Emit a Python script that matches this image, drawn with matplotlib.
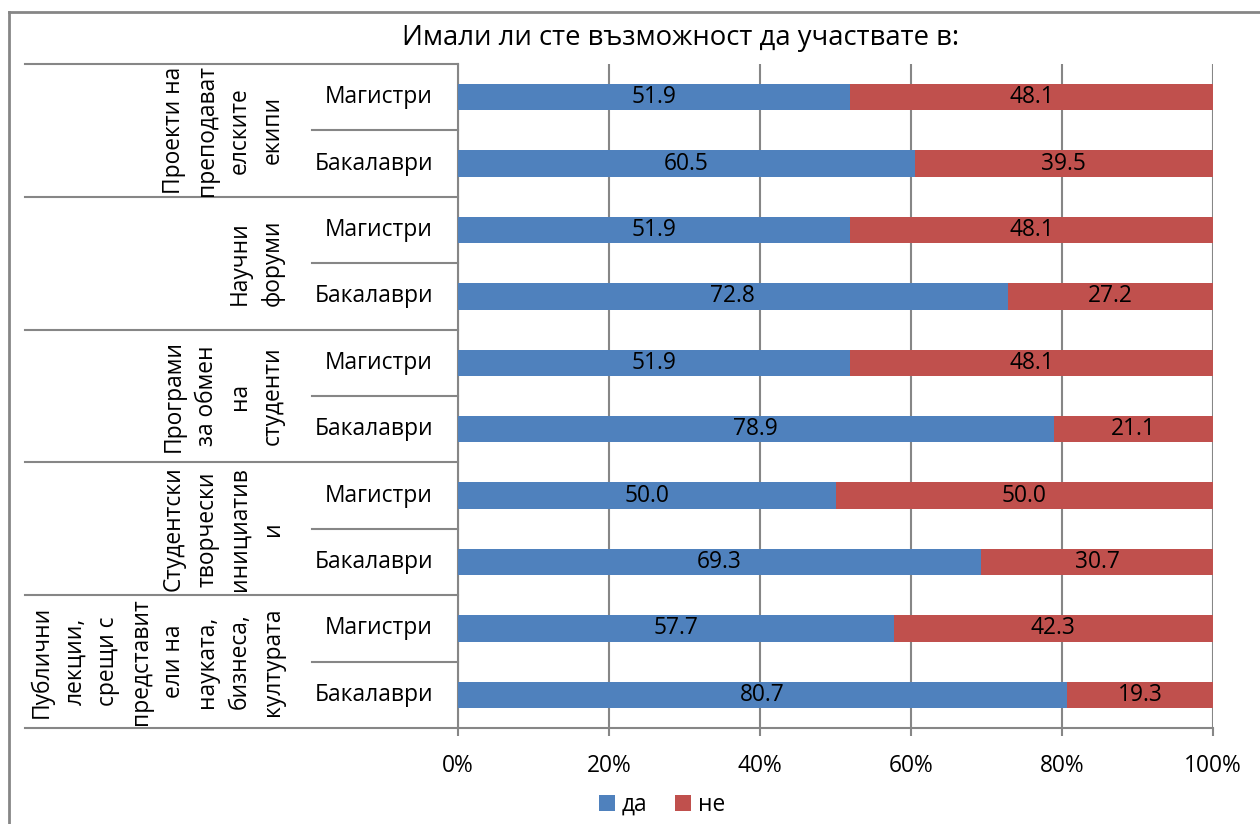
import matplotlib
matplotlib.use("Agg")
import matplotlib.pyplot as plt
import matplotlib.transforms as mtransforms
from matplotlib.lines import Line2D
import numpy as np

plt.rcParams['font.family'] = ['Open Sans', 'DejaVu Sans']

title = "Имали ли сте възможност да участвате в:"
# groups listed bottom -> top (Excel order)
groups = [
    "Публични\nлекции,\nсрещи с\nпредставит\nели на\nнауката,\nбизнеса,\nкултурата",
    "Студентски\nтворчески\nинициатив\nи",
    "Програми\nза обмен\nна\nстуденти",
    "Научни\nфоруми",
    "Проекти на\nпреподават\nелските\nекипи",
]
levels = ["Бакалаври", "Магистри"]
yes_vals = [80.7, 57.7, 69.3, 50.0, 78.9, 51.9, 72.8, 51.9, 60.5, 51.9]
no_vals = [19.3, 42.3, 30.7, 50.0, 21.1, 48.1, 27.2, 48.1, 39.5, 48.1]
series_names = ["да", "не"]
xticks = [0, 20, 40, 60, 80, 100]
xtick_labels = ["0%", "20%", "40%", "60%", "80%", "100%"]

W, H = 1260, 824
fig = plt.figure(figsize=(W / 100, H / 100), dpi=100)
x0, x1, y0, y1 = 458, 1213, 64, 728
ax = fig.add_axes([x0 / W, 1 - y1 / H, (x1 - x0) / W, (y1 - y0) / H])

blue = "#4F81BD"
red = "#C0504D"
grey = "#868686"
FS = 16.4

n = len(yes_vals)
ypos = np.arange(n)
b1 = ax.barh(ypos, yes_vals, height=0.4, color=blue, zorder=3, label=series_names[0])
b2 = ax.barh(ypos, no_vals, left=yes_vals, height=0.4, color=red, zorder=3, label=series_names[1])
ax.bar_label(b1, labels=[f"{v:.1f}" for v in yes_vals], label_type='center', fontsize=FS, color='black')
ax.bar_label(b2, labels=[f"{v:.1f}" for v in no_vals], label_type='center', fontsize=FS, color='black')

ax.set_xlim(0, 100)
ax.set_ylim(-0.5, n - 0.5)
ax.set_xticks(xticks)
ax.set_xticklabels(xtick_labels, fontsize=FS)
ax.xaxis.grid(True, color=grey, lw=1.5, zorder=0)
ax.set_axisbelow(True)
ax.tick_params(axis='x', direction='out', length=6, width=1.5, color=grey, pad=13)
ax.set_yticks([])
for s in ['top', 'right']:
    ax.spines[s].set_visible(False)
for s in ['left', 'bottom']:
    ax.spines[s].set_color(grey)
    ax.spines[s].set_linewidth(1.5)

trans = mtransforms.blended_transform_factory(ax.transAxes, ax.transData)
ax_w = x1 - x0
def fx(px):
    return (px - x0) / ax_w

# group separators
for k in range(len(groups) + 1):
    yb = 2 * k - 0.5
    ax.plot([fx(25), 0], [yb, yb], transform=trans, color=grey, lw=1.5, clip_on=False)
# inner separators
for k in range(len(groups)):
    yb = 2 * k + 0.5
    ax.plot([fx(312), 0], [yb, yb], transform=trans, color=grey, lw=1.5, clip_on=False)

# sub-level labels
for i in range(n):
    ax.text(fx(433), i, levels[i % 2], transform=trans, ha='right', va='center', fontsize=FS)

# group labels
for k, g in enumerate(groups):
    ax.text(fx(285), 2 * k + 0.5, g, transform=trans, rotation=90, ha='right', va='center',
            multialignment='center', fontsize=FS, linespacing=1.5)

fig.text(681 / W, 1 - 38 / H, title, ha='center', va='center', fontsize=19.8)

# chart border
fig.add_artist(Line2D([8.5 / W, 8.5 / W], [0, 1 - 11.5 / H], transform=fig.transFigure, color=grey, lw=2))
fig.add_artist(Line2D([8.5 / W, 1], [1 - 11.5 / H, 1 - 11.5 / H], transform=fig.transFigure, color=grey, lw=2))

fig.legend(handles=[b1, b2], labels=series_names, loc='center', bbox_to_anchor=(662 / W, 1 - 805 / H),
           ncol=2, frameon=False, fontsize=FS, handlelength=0.7, handleheight=0.7,
           handletextpad=0.3, columnspacing=1.2)

fig.savefig("out.png", dpi=100)
